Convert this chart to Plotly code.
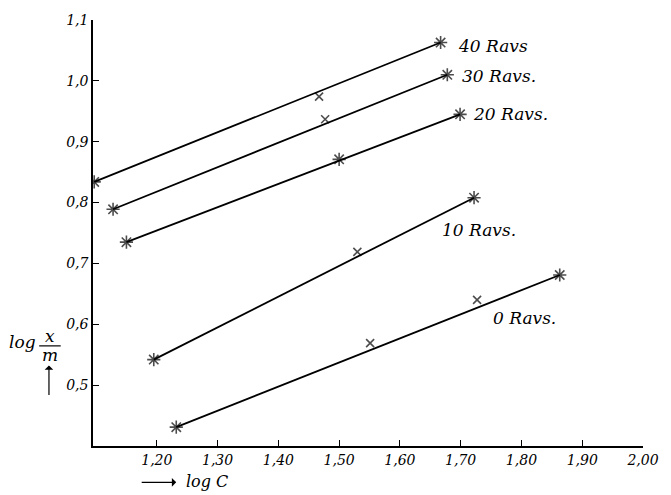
import plotly.graph_objects as go

# ---- data ----
x_40 = [1.097, 1.467, 1.667]
y_40 = [0.834, 0.974, 1.063]
x_30 = [1.128, 1.477, 1.678]
y_30 = [0.789, 0.937, 1.010]
x_20 = [1.150, 1.500, 1.699]
y_20 = [0.735, 0.871, 0.945]
x_10 = [1.195, 1.530, 1.722]
y_10 = [0.542, 0.719, 0.808]
x_0 = [1.232, 1.551, 1.727, 1.863]
y_0 = [0.431, 0.569, 0.640, 0.681]
series_names = ["40 Ravs", "30 Ravs.", "20 Ravs.", "10 Ravs.", "0 Ravs."]

x_tickvals = [1.20, 1.30, 1.40, 1.50, 1.60, 1.70, 1.80, 1.90, 2.00]
x_ticktext = ["1,20", "1,30", "1,40", "1,50", "1,60", "1,70", "1,80", "1,90", "2,00"]
y_tickvals = [0.5, 0.6, 0.7, 0.8, 0.9, 1.0, 1.1]
y_ticktext = ["0,5", "0,6", "0,7", "0,8", "0,9", "1,0", "1,1"]

series = [(x_40, y_40), (x_30, y_30), (x_20, y_20), (x_10, y_10), (x_0, y_0)]
# which intermediate points are drawn as stars (others as small crosses)
star_mid = {2: [1]}

# label placement (style)
label_pos = [(1.693, 1.057), (1.699, 1.008), (1.717, 0.945), (1.666, 0.755), (1.750, 0.610)]

FONT = "DejaVu Serif"
fig = go.Figure()

for i, (xs, ys) in enumerate(series):
    fig.add_trace(go.Scatter(
        x=[xs[0], xs[-1]], y=[ys[0], ys[-1]], mode="lines",
        line=dict(color="black", width=1.8), showlegend=False, hoverinfo="skip"))
    symbols = []
    sizes = []
    for j in range(len(xs)):
        if j == 0 or j == len(xs) - 1 or j in star_mid.get(i, []):
            symbols.append("asterisk-open")
            sizes.append(11)
        else:
            symbols.append("x-thin-open")
            sizes.append(8)
    fig.add_trace(go.Scatter(
        x=xs, y=ys, mode="markers", name=series_names[i],
        marker=dict(symbol=symbols, size=sizes, color="black",
                    line=dict(color="black", width=1.6)),
        showlegend=False))
    lx, ly = label_pos[i]
    fig.add_annotation(x=lx, y=ly, xref="x", yref="y", text=series_names[i],
                       showarrow=False, xanchor="left", yanchor="middle",
                       font=dict(family=FONT, size=17, color="black", style="italic"))

L, R, T, B = 93, 16, 12, 49
W, H = 671, 495
pw, ph = W - L - R, H - T - B

def px(xp):
    return (xp - L) / pw

def py(yp):
    return (H - B - yp) / ph

# y-axis title: log x/m with arrow
fig.add_annotation(x=px(21), y=py(340), xref="paper", yref="paper", text="log",
                   showarrow=False, xanchor="center", yanchor="middle",
                   font=dict(family=FONT, size=17, color="black", style="italic"))
fig.add_annotation(x=px(49), y=py(334), xref="paper", yref="paper", text="x",
                   showarrow=False, xanchor="center", yanchor="middle",
                   font=dict(family=FONT, size=17, color="black", style="italic"))
fig.add_annotation(x=px(49), y=py(353), xref="paper", yref="paper", text="m",
                   showarrow=False, xanchor="center", yanchor="middle",
                   font=dict(family=FONT, size=17, color="black", style="italic"))
fig.add_shape(type="line", xref="paper", yref="paper", x0=px(38), x1=px(60),
              y0=py(344), y1=py(344), line=dict(color="black", width=1.2))
fig.add_annotation(x=px(48), y=py(364), xref="paper", yref="paper", text="",
                   ax=0, ay=31, axref="pixel", ayref="pixel",
                   showarrow=True, arrowhead=1, arrowsize=1.2, arrowwidth=1.2,
                   arrowcolor="black")
# x-axis title: --> log C
fig.add_annotation(x=px(178), y=py(483), xref="paper", yref="paper", text="",
                   ax=-36, ay=0, axref="pixel", ayref="pixel",
                   showarrow=True, arrowhead=1, arrowsize=1.2, arrowwidth=1.2,
                   arrowcolor="black")
fig.add_annotation(x=px(186), y=py(482), xref="paper", yref="paper", text="log C",
                   showarrow=False, xanchor="left", yanchor="middle",
                   font=dict(family=FONT, size=16, color="black", style="italic"))

axis_common = dict(showgrid=False, zeroline=False, showline=True, linecolor="black",
                   linewidth=1.6, ticks="inside", ticklen=6, tickwidth=1.4,
                   tickcolor="black",
                   tickfont=dict(family=FONT, size=14, color="black", style="italic"))
fig.update_xaxes(range=[1.095, 2.0], tickvals=x_tickvals, ticktext=x_ticktext, **axis_common)
fig.update_yaxes(range=[0.4, 1.1], tickvals=y_tickvals, ticktext=y_ticktext, **axis_common)

fig.update_layout(width=W, height=H, margin=dict(l=L, r=R, t=T, b=B),
                  plot_bgcolor="white", paper_bgcolor="white", showlegend=False)

fig.write_html("out.html")
